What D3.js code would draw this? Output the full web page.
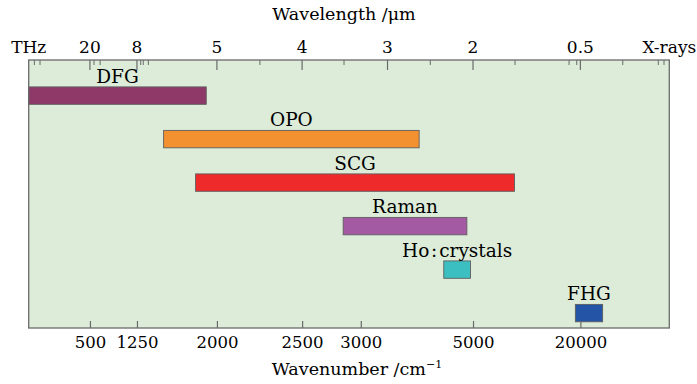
<!DOCTYPE html>
<html>
<head>
<meta charset="utf-8">
<script src="https://cdn.jsdelivr.net/npm/d3@7"></script>
<style>
  html, body { margin: 0; padding: 0; background: #ffffff; }
  svg { display: block; }
  text { font-family: "DejaVu Serif", "Liberation Serif", serif; fill: #000; }
</style>
</head>
<body>
<div id="chart"></div>
<script>
// ---------------- data ----------------
const categories = ["DFG", "OPO", "SCG", "Raman", "Ho\u200A:\u200Acrystals", "FHG"];
const rangeStart = [100, 1500, 1800, 2850, 4430, 19300];   // cm^-1
const rangeEnd   = [1900, 3950, 10800, 4880, 4950, 40000]; // cm^-1
const barColors  = ["#8e3967", "#f39130", "#ee2a2b", "#a45aa2", "#3bbfc0", "#2354a6"];

const bottomTicks = [500, 1250, 2000, 2500, 3000, 5000, 20000];          // cm^-1
const topTicks = [20, 8, 5, 4, 3, 2, 0.5];                               // μm
const topMinorTicks = [73, 57.5, 17.7, 15.1, 7.78, 7.64, 7.37, 4.44, 3.5, 2.4, 0.92, 0.543, 0.513, 0.172, 0.111, 0.105]; // μm
const topEndLabels = ["THz", "X-rays"];

// schematic (piecewise) axis: break values in cm^-1 and their relative positions
const axisBreaks = [100, 500, 1250, 2000, 2500, 3000, 3333, 5000, 20000, 100000];
const axisBreakPos = [0, 0.0956, 0.1690, 0.2938, 0.4268, 0.5184, 0.5601, 0.6936, 0.8612, 1];

// ---------------- layout ----------------
const W = 697, H = 384;
const plot = { left: 28.7, right: 669.3, top: 60, bottom: 328 };
const pw = plot.right - plot.left;

const svg = d3.select("#chart").append("svg").attr("width", W).attr("height", H);

const x = d3.scaleLinear()
  .domain(axisBreaks)
  .range(axisBreakPos.map(p => plot.left + p * pw));

const y = d3.scalePoint()
  .domain(categories)
  .range([95.6, 313.1]);
const barH = 17.4;

// background
svg.append("rect")
  .attr("x", plot.left).attr("y", plot.top)
  .attr("width", pw).attr("height", plot.bottom - plot.top)
  .attr("fill", "#dcecd9");

// bars
const data = categories.map((c, i) => ({ name: c, s: rangeStart[i], e: rangeEnd[i], color: barColors[i] }));
svg.append("g").selectAll("rect").data(data).join("rect")
  .attr("x", d => x(d.s))
  .attr("y", d => y(d.name) - barH / 2)
  .attr("width", d => x(d.e) - x(d.s))
  .attr("height", barH)
  .attr("fill", d => d.color)
  .attr("stroke", "#5e5e5e")
  .attr("stroke-width", 0.9);

svg.append("g").selectAll("text").data(data).join("text")
  .attr("x", d => (x(d.s) + x(d.e)) / 2)
  .attr("y", d => y(d.name) - barH / 2 - 4)
  .attr("text-anchor", "middle")
  .attr("font-size", 18.5)
  .text(d => d.name);

// frame
svg.append("rect")
  .attr("x", plot.left).attr("y", plot.top)
  .attr("width", pw).attr("height", plot.bottom - plot.top)
  .attr("fill", "none").attr("stroke", "#6a6a6a").attr("stroke-width", 1.3);

// bottom axis (ticks inward)
const bottomAxis = d3.axisBottom(x).tickValues(bottomTicks).tickSizeInner(-7).tickSizeOuter(0)
  .tickFormat(d3.format("d")).tickPadding(8);
const gb = svg.append("g").attr("transform", `translate(0,${plot.bottom})`).call(bottomAxis);
gb.select(".domain").remove();
gb.selectAll(".tick line").attr("stroke", "#6a6a6a").attr("stroke-width", 1.2);
gb.selectAll(".tick text").attr("font-family", "DejaVu Serif").attr("font-size", 16.5).attr("fill", "#000");

// top axis (wavelength, μm -> cm^-1)
const gt = svg.append("g");
gt.selectAll("line.major").data(topTicks).join("line")
  .attr("class", "major")
  .attr("x1", d => x(1e4 / d)).attr("x2", d => x(1e4 / d))
  .attr("y1", plot.top).attr("y2", plot.top + 10)
  .attr("stroke", "#6a6a6a").attr("stroke-width", 1.2);
gt.selectAll("line.minor").data(topMinorTicks).join("line")
  .attr("class", "minor")
  .attr("x1", d => x(1e4 / d)).attr("x2", d => x(1e4 / d))
  .attr("y1", plot.top).attr("y2", plot.top + 5)
  .attr("stroke", "#6a6a6a").attr("stroke-width", 1);
gt.selectAll("text.major").data(topTicks).join("text")
  .attr("class", "major")
  .attr("x", d => x(1e4 / d)).attr("y", 53)
  .attr("text-anchor", "middle").attr("font-size", 17)
  .text(d => d);
gt.selectAll("text.end").data(topEndLabels).join("text")
  .attr("class", "end")
  .attr("x", (d, i) => i === 0 ? x(axisBreaks[0]) : x(axisBreaks[axisBreaks.length - 1]))
  .attr("y", 53)
  .attr("text-anchor", "middle").attr("font-size", 17)
  .text(d => d);

// titles
svg.append("text").attr("x", 344).attr("y", 20).attr("text-anchor", "middle")
  .attr("font-size", 17.5).text("Wavelength /\u03BCm");
const t2 = svg.append("text").attr("x", 357).attr("y", 375).attr("text-anchor", "middle")
  .attr("font-size", 17.5);
t2.append("tspan").text("Wavenumber /cm");
t2.append("tspan").attr("font-size", 11).attr("dy", -7).text("\u22121");
</script>
</body>
</html>
